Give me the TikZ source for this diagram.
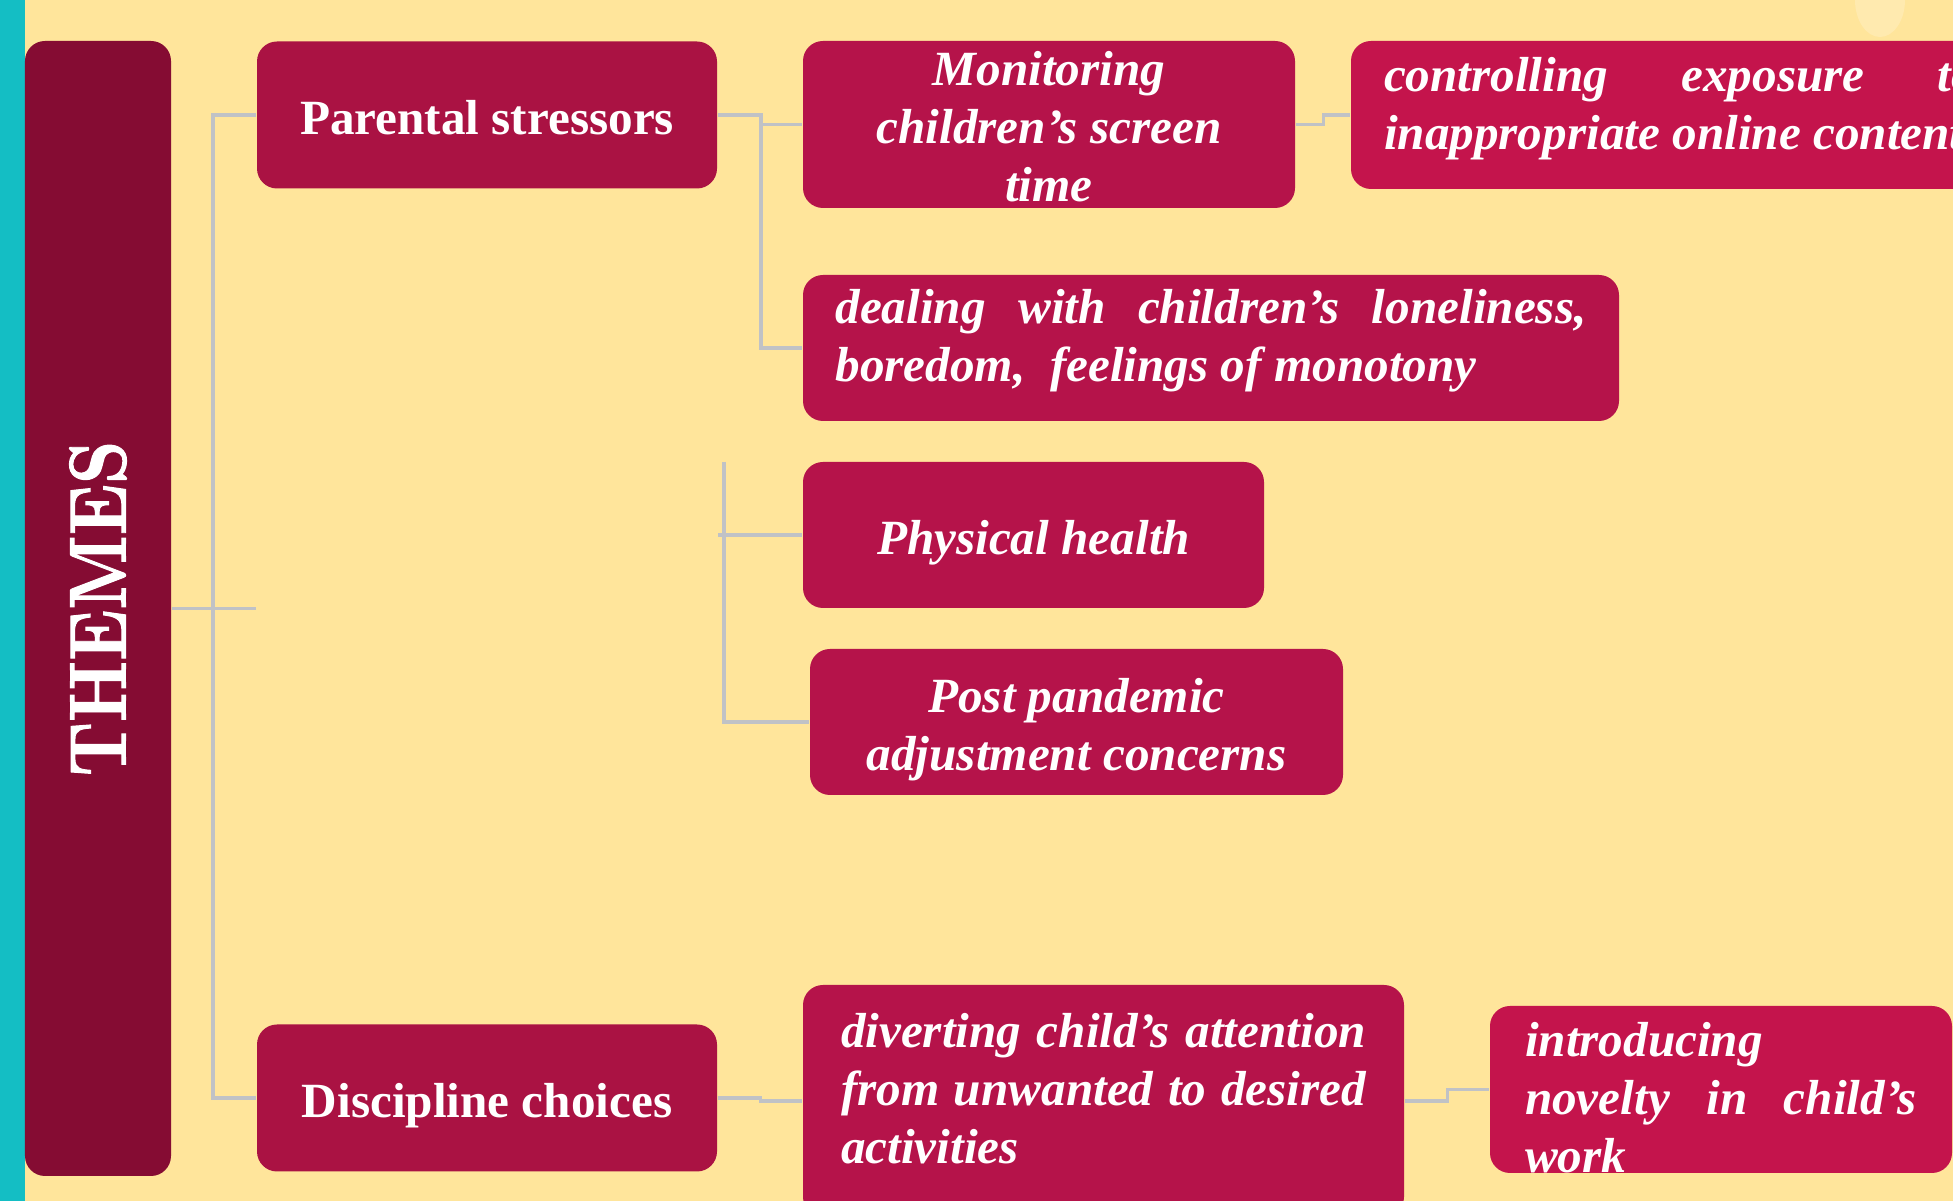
\documentclass[tikz,border=0pt]{standalone}
\usepackage{fontspec}
\setmainfont{Liberation Serif}
\newfontfamily\themesfont{lmroman10-bold}[Extension=.otf, FakeStretch=0.84, FakeBold=1.2]
\definecolor{paleyellow}{RGB}{255,229,155}
\definecolor{tealedge}{RGB}{20,190,196}
\definecolor{themeswine}{RGB}{133,12,51}
\definecolor{stressred}{RGB}{170,18,67}
\definecolor{leafred}{RGB}{181,19,74}
\definecolor{brightred}{RGB}{196,20,76}
\definecolor{linkgrey}{RGB}{192,194,198}
\usetikzlibrary{positioning,calc}

\tikzset{
  theme/.style={rounded corners=0.2cm, fill=themeswine, text=white, inner sep=0pt},
  stressbox/.style={rounded corners=0.2cm, fill=stressred, text=white, inner sep=0pt,
    minimum width=4.6cm, minimum height=1.47cm, text height=12pt, text depth=1pt,
    font=\bfseries\fontsize{14}{16.5}\selectfont},
  leafbox/.style={rounded corners=0.2cm, fill=leafred, text=white, inner sep=0pt,
    minimum height=1.46cm, text height=10pt, font=\bfseries\itshape\fontsize{14}{16.5}\selectfont},
  link/.style={draw=linkgrey, line width=0.9pt},
}

\begin{document}
\begin{tikzpicture}
    \clip (0,0) rectangle (19.53,12.01);
    \fill[paleyellow] (0,0) rectangle (19.53,12.01);
    \fill[tealedge] (0,0) rectangle (0.25,12.01);
    \fill[white, opacity=0.2] (18.80,12.01) ellipse (0.25 and 0.37);

    % theme column
    \node[theme, minimum width=1.46cm, minimum height=11.35cm] (themes) at (0.98,5.925)
        {\rotatebox{90}{\themesfont\fontsize{23}{23}\selectfont THEMES}};

    % main themes
    \node[stressbox] (parental) at (4.87,10.86) {Parental stressors};
    \node[stressbox] (discipline) at (4.87,1.03) {Discipline choices};

    % sub themes
    \node[leafbox, minimum width=4.92cm, minimum height=1.67cm, text height=45pt, text depth=1pt, align=center] (monitoring) at (10.49,10.765)
        {Monitoring\\ children's screen\\ time};
    \node[leafbox, fill=brightred, minimum width=6.58cm, minimum height=1.48cm, text depth=23.5pt,
        text width=5.92cm, align=flush left] (controlling) at (16.80,10.86)
        {controlling\hfill exposure\hfill to\\ inappropriate online content};
    \node[leafbox, minimum width=8.16cm, text depth=24.1pt, text width=7.51cm, align=flush left] (dealing) at (12.11,8.53)
        {dealing\hfill with\hfill children's\hfill loneliness,\\ boredom,\ \ feelings of monotony};
    \node[leafbox, minimum width=4.61cm, text height=12pt, text depth=1pt] (physical) at (10.335,6.66) {Physical health};
    \node[leafbox, minimum width=5.33cm, text height=28.5pt, text depth=1pt, align=center] (post) at (10.765,4.79)
        {Post pandemic\\ adjustment concerns};
    \node[leafbox, minimum width=6.01cm, minimum height=2.32cm, text depth=40.6pt,
        text width=5.25cm, align=flush left] (diverting) at (11.035,1.00)
        {diverting\hfill child's\hfill attention\\ from\hfill unwanted\hfill to\hfill desired\\ activities};
    \node[leafbox, fill=brightred, minimum width=4.62cm, minimum height=1.67cm, text depth=28.8pt,
        text width=3.92cm, align=flush left] (introducing) at (17.21,1.115)
        {introducing\\ novelty\hfill in\hfill child's\\ work};

    % connectors
    \coordinate (trunk) at (2.13,0);
    \coordinate (fork) at (7.61,0);
    \coordinate (health) at (7.24,7.39);
    \draw[link] (themes.east) -- (themes.east -| parental.west);
    \draw[link] (parental.west) -| (trunk |- discipline.west) -- (discipline.west);
    \draw[link] (parental.east) -| (fork |- dealing.west) -- (dealing.west);
    \draw[link] (fork |- monitoring.west) -- (monitoring.west);
    \draw[link] (monitoring.east) -- ++(0.28,0) |- (controlling.west);
    \draw[link] (health) |- (post.west);
    \draw[link] ($(health |- physical.west)+(-0.06,0)$) -- (physical.west);
    \draw[link] (discipline.east) -- ++(0.43,0) |- (diverting.west);
    \draw[link] (diverting.east) -- ++(0.43,0) |- (introducing.west);
\end{tikzpicture}
\end{document}
